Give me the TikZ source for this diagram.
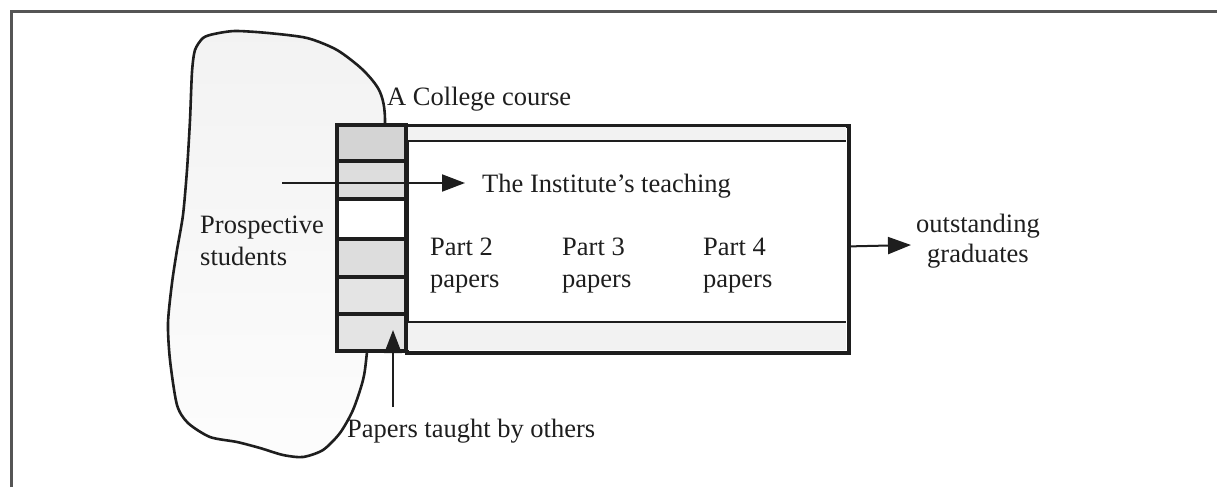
\documentclass[tikz,border=0pt]{standalone}
\usepackage{fontspec}
\setmainfont{Liberation Serif}
\usetikzlibrary{arrows.meta}
\definecolor{inkc}{HTML}{1E1E1E}
\definecolor{framec}{HTML}{555555}
\definecolor{cellA}{HTML}{D4D4D4}
\definecolor{cellB}{HTML}{DDDDDD}
\definecolor{cellC}{HTML}{E4E4E4}
\definecolor{bandc}{HTML}{F2F2F2}
\begin{document}
\begin{tikzpicture}[x=1pt,y=-1pt,
  lbl/.style={inner sep=0pt, anchor=base west, text=inkc,
    font=\fontsize{26.5}{32}\selectfont},
  flow/.style={draw=inkc, line width=2pt,
    -{Triangle[length=23pt,width=17pt]}},
  cell/.style={draw=inkc, line width=3.4pt},
  outline/.style={draw=inkc, line width=2.8pt},
]
\useasboundingbox (0,0) rectangle (1217,487);
\fill[white] (0,0) rectangle (1217,487);

% page frame (top and left edges)
\draw[framec, line width=3pt] (11,487) -- (11,12) -- (1217,12);

% the pool of prospective students
\draw[inkc, line width=2.6pt, top color=gray!10, bottom color=gray!2]
  plot[smooth cycle, tension=0.45] coordinates {
    (385,125) (380,92) (363,70) (337,50) (307,38) (268,33) (235,31)
    (214,34) (203,38) (195,50) (192,72) (190,120) (187,170) (183,215)
    (177,250) (172,283) (168,323) (170,360) (177,405) (188,423)
    (210,437) (237,442) (260,448) (283,455) (303,457) (323,450)
    (340,433) (353,410) (363,380) (367,352) (378,240)};

% the Institute's teaching box
\node[outline, fill=white, minimum width=441pt, minimum height=226pt,
  inner sep=0pt, anchor=north west] (teach) at (406,125) {};
\fill[bandc] (407,126.5) rectangle (845.5,141);
\fill[bandc] (407,322) rectangle (845.5,349.5);
\draw[inkc, line width=1.5pt] (407,141) -- (846,141);
\draw[inkc, line width=1.5pt] (407,322) -- (846,322);
\draw[outline] (teach.north west) rectangle (teach.south east);

% college course column of papers
\node[minimum width=69pt, minimum height=226pt, inner sep=0pt,
  anchor=north west] (col) at (337,125) {};
\foreach \ya/\yb/\c in {125/161/cellA, 161/199/cellB, 199/239/white,
                        239/277/cellB, 277/314/cellC, 314/351/cellC}
  \draw[cell, fill=\c] (337,\ya) rectangle (406,\yb);
\draw[inkc, line width=4.4pt] (406,123.5) -- (406,352.5);

% labels (for two-line labels the anchor is the second baseline)
\node[lbl] (college) at (387,105) {A College course};
\node[lbl] (inst) at (482,192) {The Institute’s teaching};
\node[lbl, align=left] (pros) at (200,265) {Prospective\\students};
\node[lbl, align=left] (p2) at (430,287) {Part 2\\papers};
\node[lbl, align=left] (p3) at (562,287) {Part 3\\papers};
\node[lbl, align=left] (p4) at (703,287) {Part 4\\papers};
\node[lbl, align=center, anchor=base,
  font=\fontsize{26.5}{30}\selectfont] (grad) at (978,262) {outstanding\\graduates};
\node[lbl] (others) at (347,437) {Papers taught by others};

% arrows
\coordinate (inTail) at (282,183);
\coordinate (inTip) at (465,183);
\coordinate (outTip) at (911,245);
\coordinate (upTail) at (393,407);
\coordinate (upTip) at (393,330);
\draw[flow] (inTail) -- (inTip);
\draw[flow] ([yshift=-7pt]teach.east) -- (outTip);
\draw[flow] (upTail) -- (upTip);
\end{tikzpicture}
\end{document}
